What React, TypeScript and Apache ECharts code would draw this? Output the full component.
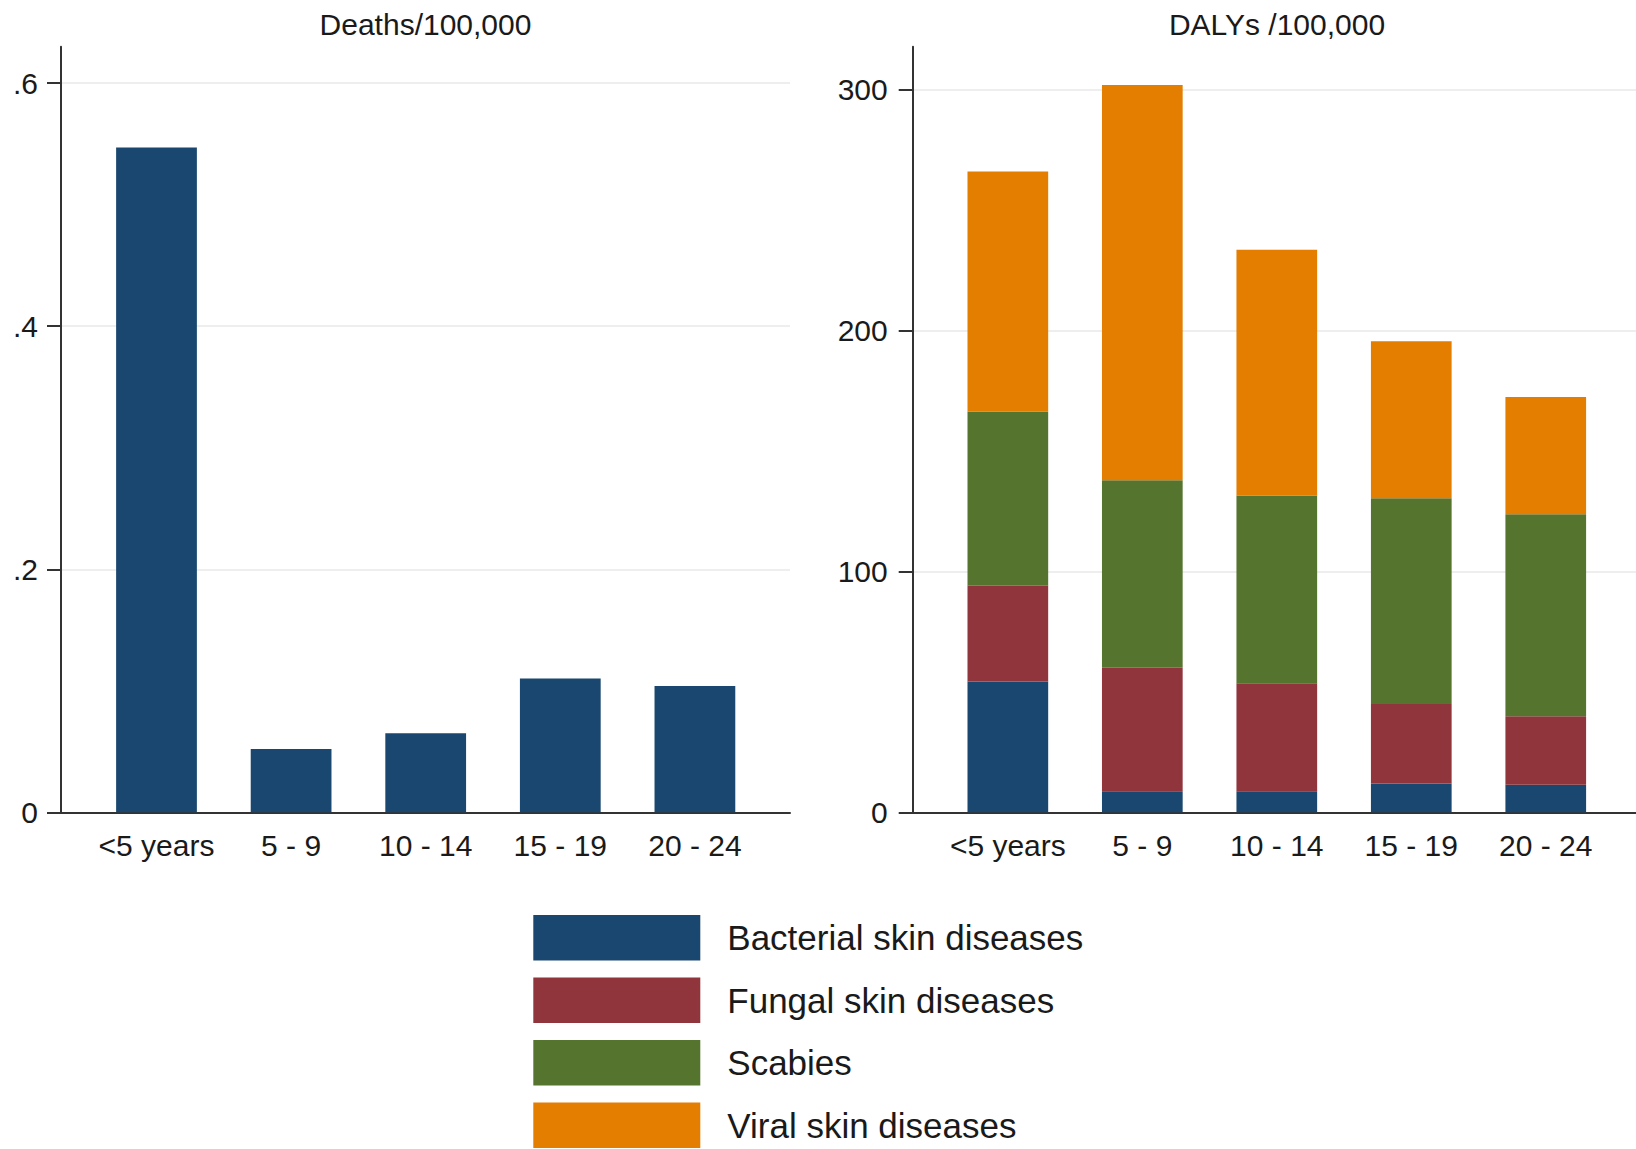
import React, { useEffect, useRef } from "react";
import * as echarts from "echarts";

const categories = ["<5 years", "5 - 9", "10 - 14", "15 - 19", "20 - 24"];
const deathsBacterial = [0.547, 0.052, 0.065, 0.11, 0.104];
const dalysBacterial = [54.3, 8.7, 8.7, 12.0, 11.4];
const dalysFungal = [39.7, 51.3, 44.9, 32.9, 28.5];
const dalysScabies = [72.2, 77.8, 77.9, 85.4, 83.8];
const dalysViral = [99.7, 164.0, 101.9, 65.2, 48.6];
const deathsTicks = [0, 0.2, 0.4, 0.6];
const dalysTicks = [0, 100, 200, 300];
const seriesNames = [
  "Bacterial skin diseases",
  "Fungal skin diseases",
  "Scabies",
  "Viral skin diseases",
];
const colors = ["#1a476f", "#90353b", "#55752f", "#e37e00"];

const FONT = "'Liberation Sans', Arial, sans-serif";
const AXIS_COLOR = "#333333";
const TEXT_COLOR = "#1a1a1a";

export default function App() {
  const ref = useRef<HTMLDivElement>(null);

  useEffect(() => {
    if (!ref.current) return;
    const chart = echarts.init(ref.current, undefined, { renderer: "svg" });

    const top = 46.7;
    const height = 812.3 - 46.7;

    const frameX = (gi: number) => ({
      type: "value",
      gridIndex: gi,
      min: 0,
      max: 1,
      axisLine: { show: true, lineStyle: { color: AXIS_COLOR, width: 2 } },
      axisTick: { show: false },
      axisLabel: { show: false },
      splitLine: { show: false },
    });
    const frameY = (gi: number, max: number, interval: number, ticks: number[], margin: number) => ({
      type: "value",
      gridIndex: gi,
      min: 0,
      max,
      interval,
      axisLine: { show: true, lineStyle: { color: AXIS_COLOR, width: 2 } },
      axisTick: {
        show: true,
        length: 14,
        customValues: ticks,
        lineStyle: { color: AXIS_COLOR, width: 2 },
      },
      axisLabel: {
        show: true,
        customValues: ticks,
        margin,
        fontSize: 30,
        fontFamily: FONT,
        color: TEXT_COLOR,
        formatter: (v: number) => {
          if (v === 0) return "0";
          if (Math.abs(v) < 1) return v.toFixed(1).replace(/^0/, "");
          return String(Math.round(v));
        },
      },
      splitLine: {
        show: true,
        showMinLine: false,
        showMaxLine: true,
        lineStyle: { color: "#e9e9e9", width: 1.5 },
      },
    });
    const barX = (gi: number) => ({
      type: "category",
      gridIndex: gi,
      data: categories,
      axisLine: { show: false },
      axisTick: { show: false },
      splitLine: { show: false },
      axisLabel: {
        margin: 18,
        fontSize: 30,
        fontFamily: FONT,
        color: TEXT_COLOR,
        interval: 0,
      },
    });
    const barY = (gi: number, max: number) => ({
      type: "value",
      gridIndex: gi,
      min: 0,
      max,
      show: false,
      splitLine: { show: false },
    });

    const option: any = {
      animation: false,
      backgroundColor: "#ffffff",
      textStyle: { fontFamily: FONT },
      title: [
        {
          text: "Deaths/100,000",
          left: 425.5,
          top: 9,
          padding: 0,
          textAlign: "center",
          textStyle: { fontSize: 30, fontWeight: "normal", color: TEXT_COLOR, fontFamily: FONT },
        },
        {
          text: "DALYs /100,000",
          left: 1277,
          top: 9,
          padding: 0,
          textAlign: "center",
          textStyle: { fontSize: 30, fontWeight: "normal", color: TEXT_COLOR, fontFamily: FONT },
        },
      ],
      legend: {
        orient: "vertical",
        left: 533.3,
        top: 915,
        padding: 0,
        itemWidth: 167,
        itemHeight: 45.5,
        itemGap: 17,
        icon: "rect",
        data: seriesNames,
        selectedMode: false,
        textStyle: {
          fontSize: 35,
          lineHeight: 45,
          fontFamily: FONT,
          color: TEXT_COLOR,
          padding: [0, 0, 0, 22],
        },
      },
      grid: [
        { left: 61, top, width: 729, height },
        { left: 89.2, top, width: 673, height },
        { left: 912.7, top, width: 728.3, height },
        { left: 940.6, top, width: 672.4, height },
      ],
      xAxis: [frameX(0), barX(1), frameX(2), barX(3)],
      yAxis: [
        frameY(0, 0.63, 0.2, deathsTicks, 23),
        barY(1, 0.63),
        frameY(2, 317.7, 100, dalysTicks, 25),
        barY(3, 317.7),
      ],
      series: [
        {
          name: seriesNames[0],
          type: "bar",
          xAxisIndex: 1,
          yAxisIndex: 1,
          barWidth: "60%",
          itemStyle: { color: colors[0] },
          data: deathsBacterial,
        },
        ...[dalysBacterial, dalysFungal, dalysScabies, dalysViral].map((d, i) => ({
          name: seriesNames[i],
          type: "bar",
          stack: "dalys",
          xAxisIndex: 3,
          yAxisIndex: 3,
          barWidth: "60%",
          itemStyle: { color: colors[i] },
          data: d,
        })),
      ],
    };

    chart.setOption(option);
    return () => chart.dispose();
  }, []);

  return (
    <div
      ref={ref}
      style={{ position: "absolute", left: 0, top: 0, width: 1636, height: 1149 }}
    />
  );
}
